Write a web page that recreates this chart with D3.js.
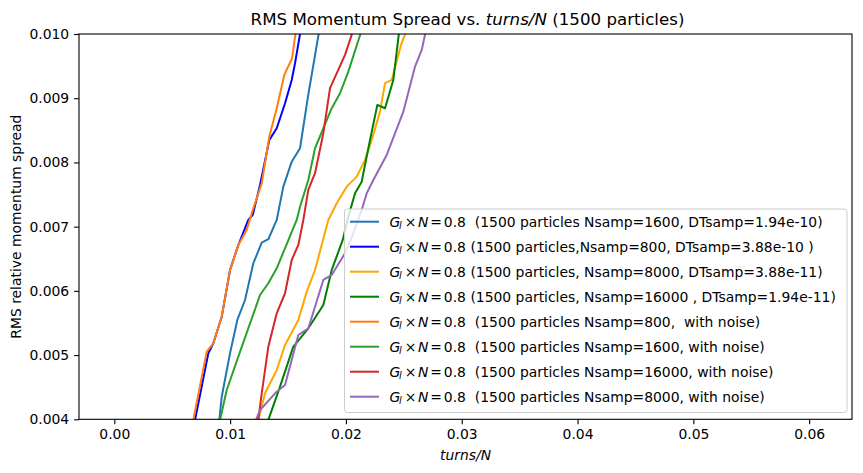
<!DOCTYPE html>
<html>
<head>
<meta charset="utf-8">
<script src="https://cdn.jsdelivr.net/npm/d3@7"></script>
<style>
  body { margin: 0; background: #fff; }
  text { font-family: "DejaVu Sans", sans-serif; }
</style>
</head>
<body>
<svg id="chart" width="863" height="473"></svg>
<script>

// x values (turns/N) and y values (RMS spread)
var s1600x = [0.009067, 0.009275, 0.009991, 0.010622, 0.011287, 0.012003, 0.012729, 0.013299, 0.014024, 0.014594, 0.015320, 0.016036, 0.016701, 0.017703];
var s1600y = [0.00399, 0.004352, 0.005028, 0.005547, 0.005858, 0.006430, 0.006751, 0.006804, 0.007104, 0.007623, 0.008012, 0.008221, 0.009000, 0.010064];

var s800x = [0.006969, 0.008117, 0.008549, 0.009275, 0.009991, 0.010708, 0.011572, 0.011952, 0.012582, 0.013385, 0.014024, 0.014741, 0.015320, 0.015605, 0.016097];
var s800y = [0.00399, 0.005028, 0.005184, 0.005598, 0.006324, 0.006713, 0.007104, 0.007182, 0.007649, 0.008350, 0.008533, 0.008922, 0.009285, 0.009545, 0.010064];

var s8000x = [0.012435, 0.013014, 0.014024, 0.014741, 0.015889, 0.016615, 0.017332, 0.018480, 0.019206, 0.020069, 0.020933, 0.021650, 0.022228, 0.022945, 0.023377, 0.023955, 0.024758, 0.025250];
var s8000y = [0.00399, 0.004405, 0.004768, 0.005157, 0.005547, 0.005988, 0.006325, 0.007104, 0.007364, 0.007623, 0.007779, 0.008039, 0.008350, 0.008791, 0.009234, 0.009285, 0.009830, 0.010064];

var s16000x = [0.013299, 0.014309, 0.015458, 0.016753, 0.018048, 0.018774, 0.019724, 0.020207, 0.020786, 0.021364, 0.021503, 0.022081, 0.022712, 0.023377, 0.024093, 0.024611];
var s16000y = [0.00399, 0.004508, 0.005131, 0.005417, 0.005780, 0.006326, 0.006793, 0.007156, 0.007520, 0.007701, 0.007832, 0.008350, 0.008896, 0.008844, 0.009285, 0.010064];

var n800x = [0.006822, 0.007979, 0.008549, 0.009275, 0.009991, 0.010708, 0.011434, 0.011865, 0.012729, 0.013385, 0.014024, 0.014680, 0.015345, 0.015691];
var n800y = [0.00399, 0.005053, 0.005184, 0.005598, 0.006324, 0.006713, 0.006949, 0.007209, 0.007676, 0.008402, 0.008844, 0.009363, 0.009623, 0.010064];

var n1600x = [0.009128, 0.009706, 0.010708, 0.012582, 0.013299, 0.014024, 0.015751, 0.016036, 0.016753, 0.017332, 0.018774, 0.019491, 0.020207, 0.021364];
var n1600y = [0.00399, 0.004456, 0.004975, 0.005936, 0.006118, 0.006352, 0.007104, 0.007311, 0.007727, 0.008221, 0.008844, 0.009078, 0.009414, 0.010064];

var n16000x = [0.012435, 0.012729, 0.013299, 0.014024, 0.014741, 0.015320, 0.015889, 0.016321, 0.016753, 0.017332, 0.018048, 0.018627, 0.019922, 0.020639];
var n16000y = [0.00399, 0.004405, 0.005131, 0.005651, 0.005963, 0.006481, 0.006715, 0.007104, 0.007572, 0.007832, 0.008455, 0.009156, 0.009674, 0.010064];

var n8000x = [0.012237, 0.012582, 0.014024, 0.014741, 0.015889, 0.016753, 0.018048, 0.018774, 0.019206, 0.019922, 0.020639, 0.021364, 0.021796, 0.022366, 0.023523, 0.024957, 0.025967, 0.026546, 0.026917];
var n8000y = [0.00399, 0.004145, 0.004430, 0.004534, 0.005313, 0.005417, 0.006170, 0.006248, 0.006377, 0.006586, 0.006897, 0.007260, 0.007520, 0.007727, 0.008117, 0.008791, 0.009492, 0.009752, 0.010064];

var labelTails = [
    "  (1500 particles Nsamp=1600, DTsamp=1.94e-10)",
    " (1500 particles,Nsamp=800, DTsamp=3.88e-10 )",
    " (1500 particles, Nsamp=8000, DTsamp=3.88e-11)",
    " (1500 particles, Nsamp=16000 , DTsamp=1.94e-11)",
    "  (1500 particles Nsamp=800,  with noise)",
    "  (1500 particles Nsamp=1600, with noise)",
    "  (1500 particles Nsamp=16000, with noise)",
    "  (1500 particles Nsamp=8000, with noise)"
];
var colors = ["#1f77b4", "#0000ff", "#ffa500", "#008000", "#ff7f0e", "#2ca02c", "#d62728", "#9467bd"];

var xTicks = [0, 0.01, 0.02, 0.03, 0.04, 0.05, 0.06];
var yTicks = [0.004, 0.005, 0.006, 0.007, 0.008, 0.009, 0.010];

var seriesX = [s1600x, s800x, s8000x, s16000x, n800x, n1600x, n16000x, n8000x];
var seriesY = [s1600y, s800y, s8000y, s16000y, n800y, n1600y, n16000y, n8000y];

var svg = d3.select("#chart");
// plot box in pixels (don't use "top", it clashes with window.top)
var pLeft = 79, pRight = 852, pTop = 34, pBottom = 419.3;
var fs = "13.9px";

var x = d3.scaleLinear().domain([-0.00305, 0.0637]).range([pLeft, pRight]);
var y = d3.scaleLinear().domain([0.004, 0.010]).range([pBottom, pTop]);

svg.append("clipPath").attr("id", "plotClip")
    .append("rect")
    .attr("x", pLeft).attr("y", pTop)
    .attr("width", pRight - pLeft).attr("height", pBottom - pTop);

// lines
var line = d3.line().x(d => x(d[0])).y(d => y(d[1]));
var plot = svg.append("g").attr("clip-path", "url(#plotClip)");

seriesX.map((xs, i) => {
    var pts = xs.map((v, j) => [v, seriesY[i][j]]);
    plot.append("path")
        .datum(pts)
        .attr("d", line)
        .attr("fill", "none")
        .attr("stroke", colors[i])
        .attr("stroke-width", 2)
        .attr("stroke-linejoin", "round")
        .attr("stroke-linecap", "square");
});

// axes
var xAxis = d3.axisBottom(x).tickValues(xTicks).tickFormat(d3.format(".2f")).tickSizeOuter(0).tickSize(4.9).tickPadding(4.9);
var yAxis = d3.axisLeft(y).tickValues(yTicks).tickFormat(d3.format(".3f")).tickSizeOuter(0).tickSize(4.9).tickPadding(4.9);

var gx = svg.append("g").attr("transform", "translate(0," + pBottom + ")").call(xAxis);
var gy = svg.append("g").attr("transform", "translate(" + pLeft + ",0)").call(yAxis);
[gx, gy].map(g => {
    g.select(".domain").remove();
    g.selectAll("line").attr("stroke", "#000").attr("stroke-width", 1.1);
    g.selectAll("text").attr("fill", "#000").style("font-size", fs).style("font-family", "DejaVu Sans");
});

// frame
svg.append("rect")
    .attr("x", pLeft).attr("y", pTop)
    .attr("width", pRight - pLeft).attr("height", pBottom - pTop)
    .attr("fill", "none").attr("stroke", "#000").attr("stroke-width", 1.1);

// title
var title = svg.append("text")
    .attr("x", (pLeft + pRight) / 2 + 2).attr("y", 25)
    .attr("text-anchor", "middle")
    .style("font-size", "16.67px")
    .style("white-space", "pre");
title.append("tspan").text("RMS Momentum Spread vs. ");
title.append("tspan").style("font-style", "italic").text("turns/N");
title.append("tspan").text(" (1500 particles)");

// axis labels
svg.append("text")
    .attr("x", (pLeft + pRight) / 2).attr("y", 460)
    .attr("text-anchor", "middle")
    .style("font-size", fs)
    .style("font-style", "italic")
    .text("turns/N");

svg.append("text")
    .attr("transform", "translate(21," + ((pTop + pBottom) / 2) + ") rotate(-90)")
    .attr("text-anchor", "middle")
    .style("font-size", fs)
    .text("RMS relative momentum spread");

// legend
var legend = svg.append("g");
legend.append("rect")
    .attr("x", 344.5).attr("y", 209)
    .attr("width", 502.5).attr("height", 203.5)
    .attr("rx", 3).attr("ry", 3)
    .attr("fill", "#fff").attr("fill-opacity", 0.8)
    .attr("stroke", "#cccccc").attr("stroke-width", 1);

labelTails.map((tail, i) => {
    var cy = 221.7 + i * 25;
    var base = cy + 5;
    legend.append("line")
        .attr("x1", 350).attr("x2", 379)
        .attr("y1", cy).attr("y2", cy)
        .attr("stroke", colors[i]).attr("stroke-width", 2);

    var t = legend.append("text")
        .attr("y", base)
        .style("font-size", fs)
        .style("white-space", "pre")
        .attr("fill", "#000");
    // mathtext part laid out piece by piece, like matplotlib spaces it
    t.append("tspan").attr("x", 389.5).style("font-style", "italic").text("G");
    t.append("tspan").attr("x", 399).attr("y", base + 2.5).style("font-style", "italic").style("font-size", "9.7px").text("l");
    t.append("tspan").attr("x", 404.8).attr("y", base).text("×");
    t.append("tspan").attr("x", 418).style("font-style", "italic").text("N");
    t.append("tspan").attr("x", 430.2).text("=");
    t.append("tspan").attr("x", 443.8).text("0.8");
    t.append("tspan").attr("x", 466).text(tail);
});

</script>
</body>
</html>
